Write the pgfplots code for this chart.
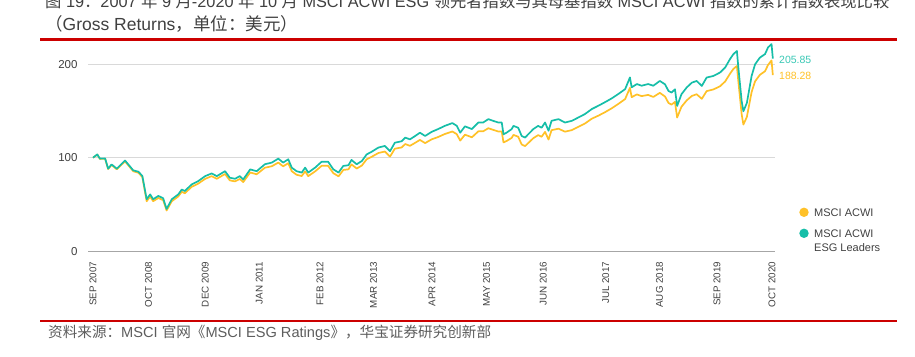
\documentclass[border=0pt]{standalone}
\usepackage{pgfplots}
\pgfplotsset{compat=1.18}
\usepackage{fontspec}
\setmainfont{Liberation Sans}
\newfontfamily\cjk{Noto Sans CJK SC}
\definecolor{esg}{RGB}{22,190,168}
\definecolor{acwi}{RGB}{255,193,40}
\definecolor{redline}{RGB}{204,0,0}
\definecolor{txt}{RGB}{64,64,64}
\begin{document}
\begin{tikzpicture}[x=1pt,y=1pt]
\path[use as bounding box] (0,0) rectangle (915,-356);
\begin{scope}
\clip (0,0) rectangle (915,-356);
\node[anchor=base west, inner sep=0, text=txt, font=\fontsize{16.3}{16}\selectfont] at (45,-7.5) {{\cjk 图} 19{\cjk ：}2007 {\cjk 年} 9 {\cjk 月}-2020 {\cjk 年} 10 {\cjk 月} MSCI ACWI ESG {\cjk 领先者指数与其母基指数} MSCI ACWI {\cjk 指数的累计指数表现比较}};
\end{scope}
\node[anchor=base west, inner sep=0, text=txt, font=\fontsize{17.5}{17}\selectfont] at (45,-30) {{\cjk （}Gross Returns{\cjk ，单位：美元）}};
\draw[redline, line width=2.5pt] (40,-39.5) -- (897,-39.5);
\draw[redline, line width=2.5pt] (40,-321) -- (897,-321);
\node[anchor=base west, inner sep=0, text=txt!85, font=\fontsize{14.6}{14}\selectfont] at (48,-337) {{\cjk 资料来源：}MSCI {\cjk 官网《}MSCI ESG Ratings{\cjk 》，华宝证券研究创新部}};
\begin{axis}[at={(88pt,-251.3pt)}, anchor=south west, scale only axis,
  width=687pt, height=210.6pt,
  xmin=-1.15, xmax=157.5, ymin=0, ymax=225,
  axis line style={draw=none}, major tick length=0pt,
  ytick={0,100,200}, ymajorgrids,
  grid style={line width=0.9pt, color=black!15},
  extra y ticks={0}, extra y tick labels={},
  extra y tick style={grid style={line width=1pt, color=black!35}},
  xtick={0,12.8,25.9,38.4,52.4,64.8,78.3,90.9,104,118.4,130.8,144.1,156.8},
  xticklabels={SEP 2007,OCT 2008,DEC 2009,JAN 2011,FEB 2012,MAR 2013,APR 2014,MAY 2015,JUN 2016,JUL 2017,AUG 2018,SEP 2019,OCT 2020},
  xticklabel style={rotate=90, anchor=east, font=\fontsize{9.8}{10}\selectfont, text=txt},
  xticklabel shift=7pt,
  yticklabel style={font=\fontsize{11.5}{12}\selectfont, text=txt},
  yticklabel shift=7pt,
  /pgf/number format/assume math mode=true,
  clip=false]
\addplot[acwi, line width=1.7pt, line join=round] coordinates {
(0,100)(1.0,103.3)(1.6,98.7)(2.8,98.8)(3.5,87.9)(4.3,92.2)(5.5,87.6)(7.4,96.1)(9.3,85.5)(10.5,83.9)(11.4,79.3)(12.4,53.5)(13.2,58.5)(13.9,53.5)(15.1,57.0)(16.2,54.6)(17.0,43.6)(18.2,53.5)(19.7,58.6)(20.5,63.6)(21.2,62.0)(22.8,68.9)(24.3,72.3)(25.9,77.4)(27.4,80.3)(28.6,77.5)(30.5,82.6)(31.6,75.8)(32.8,74.7)(33.9,77.3)(34.7,74.0)(36.3,84.2)(37.8,82.3)(39.7,89.3)(41.3,90.9)(42.8,94.8)(43.9,90.8)(45.1,94.1)(45.9,85.6)(47.0,81.8)(48.2,80.4)(49.0,85.4)(49.7,80.3)(51.3,85.4)(52.8,91.3)(54.3,91.3)(55.5,83.5)(56.7,80.1)(57.8,86.9)(59.0,87.6)(59.7,92.9)(60.9,88.4)(62.1,91.7)(63.2,98.3)(64.4,101.1)(65.9,105.0)(67.4,106.6)(68.6,101.2)(69.7,109.6)(71.3,111.0)(72.1,114.6)(73.2,112.7)(74.4,115.9)(75.5,119.0)(76.7,115.6)(78.2,119.6)(79.7,122.1)(81.3,125.4)(83.0,128.0)(84.0,125.2)(84.8,118.3)(85.9,124.6)(87.5,121.8)(89.0,128.2)(90.1,128.2)(91.3,131.5)(92.4,129.8)(93.6,128.0)(94.4,128.0)(94.8,116.3)(95.5,117.8)(96.7,121.2)(97.1,124.4)(98.2,122.4)(99.0,114.1)(99.8,112.4)(100.5,115.6)(101.7,120.9)(102.8,124.1)(103.6,122.4)(104.4,127.6)(105.2,119.4)(105.9,129.4)(107.5,131.0)(109.0,127.8)(110.6,129.5)(112.1,133.0)(113.6,136.5)(115.2,141.7)(116.7,144.9)(118.2,148.5)(119.8,152.8)(121.3,157.4)(122.9,162.7)(124.0,174.7)(124.4,164.7)(125.6,167.6)(126.7,165.8)(128.2,167.1)(129.4,164.9)(130.9,169.3)(132.1,165.4)(132.9,158.5)(133.6,156.7)(134.4,159.6)(134.9,142.9)(135.9,154.4)(137.1,161.2)(138.3,166.0)(139.4,167.8)(140.6,162.9)(141.7,171.1)(143.3,173.0)(144.8,176.3)(146.0,181.5)(147.1,189.7)(147.9,194.9)(148.7,198.0)(149.0,183.2)(149.8,146.5)(150.2,135.4)(151.0,143.6)(152.1,170.2)(152.9,181.6)(154.0,188.5)(155.2,192.4)(155.9,199.2)(156.7,203.9)(157.0,188.28)
};
\addplot[esg, line width=1.7pt, line join=round] coordinates {
(0,100)(1.0,103.5)(1.6,99)(2.8,99.3)(3.5,88.3)(4.3,92.8)(5.5,88.3)(7.4,97)(9.3,86.5)(10.5,85)(11.4,80.5)(12.4,55.6)(13.2,60.8)(13.9,55.6)(15.1,59.2)(16.2,56.7)(17.0,45.3)(18.2,55.6)(19.7,60.8)(20.5,66)(21.2,64.4)(22.8,71.5)(24.3,75)(25.9,80.3)(27.4,83.2)(28.6,80.3)(30.5,85.6)(31.6,78.6)(32.8,77.5)(33.9,80.3)(34.7,76.8)(36.3,87.5)(37.8,85.6)(39.7,93)(41.3,94.8)(42.8,99)(43.9,94.8)(45.1,98.3)(45.9,89.4)(47.0,85.6)(48.2,84.1)(49.0,89.4)(49.7,84.1)(51.3,89.4)(52.8,95.7)(54.3,95.7)(55.5,87.6)(56.7,84.1)(57.8,91.2)(59.0,92)(59.7,97.6)(60.9,93)(62.1,96.5)(63.2,103.5)(64.4,106.5)(65.9,110.8)(67.4,112.6)(68.6,107)(69.7,116)(71.3,117.6)(72.1,121.5)(73.2,119.6)(74.4,123.2)(75.5,126.7)(76.7,123.2)(78.2,127.6)(79.7,130.6)(81.3,134.1)(83.0,137)(84.0,134.1)(84.8,126.7)(85.9,133.5)(87.5,130.6)(89.0,137.6)(90.1,137.6)(91.3,141.2)(92.4,139.4)(93.6,137.6)(94.4,137.6)(94.8,125)(95.5,126.7)(96.7,130.6)(97.1,134)(98.2,132)(99.0,123.2)(99.8,121.5)(100.5,125)(101.7,130.6)(102.8,134)(103.6,132)(104.4,137.6)(105.2,128.8)(105.9,139.4)(107.5,141.2)(109.0,137.6)(110.6,139.4)(112.1,143)(113.6,146.6)(115.2,152)(116.7,155.5)(118.2,159.2)(119.8,163.4)(121.3,168)(122.9,173.3)(124.0,185.8)(124.4,175.2)(125.6,178.7)(126.7,176.9)(128.2,178.7)(129.4,176.9)(130.9,182)(132.1,178.4)(132.9,171.3)(133.6,169.6)(134.4,173.1)(134.9,155.3)(135.9,167.8)(137.1,175)(138.3,180.2)(139.4,182)(140.6,176.7)(141.7,185.6)(143.3,187.4)(144.8,191)(146.0,196.4)(147.1,205.3)(147.9,210.7)(148.7,214)(149.0,198)(149.8,160.6)(150.2,149.6)(151.0,158.5)(152.1,187.4)(152.9,199.8)(154.0,206.9)(155.2,210.7)(155.9,217.9)(156.7,221.4)(157.0,205.85)
};
\end{axis}
\node[anchor=west, inner sep=0, text=esg!85, font=\fontsize{10.5}{11}\selectfont] at (779,-60) {205.85};
\node[anchor=west, inner sep=0, text=acwi, font=\fontsize{10.5}{11}\selectfont] at (779,-76) {188.28};
\fill[acwi] (804,-212.3) circle (4.7);
\node[anchor=west, inner sep=0, text=txt, font=\fontsize{11}{11}\selectfont] at (814,-212.3) {MSCI ACWI};
\fill[esg] (804,-233.3) circle (4.7);
\node[anchor=west, inner sep=0, text=txt, font=\fontsize{11}{11}\selectfont] at (814,-233.3) {MSCI ACWI};
\node[anchor=west, inner sep=0, text=txt, font=\fontsize{11}{11}\selectfont] at (814,-247.3) {ESG Leaders};
\end{tikzpicture}
\end{document}
